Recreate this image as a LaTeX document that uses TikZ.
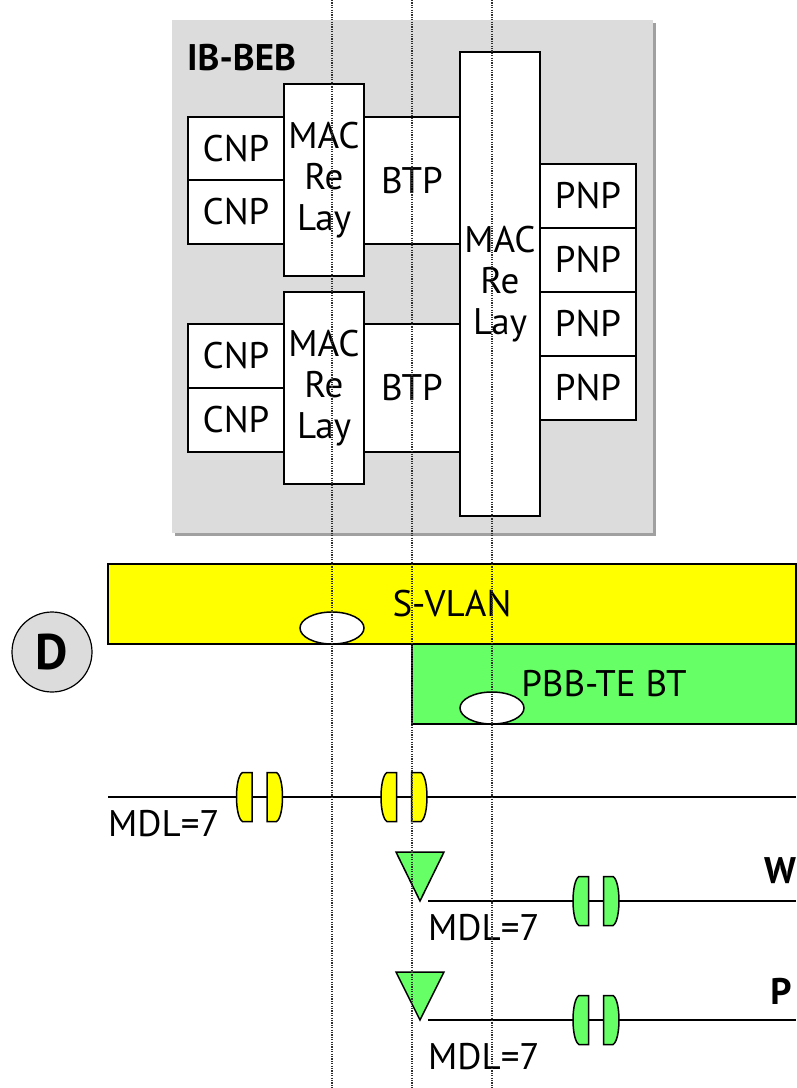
\documentclass[tikz,border=0pt]{standalone}
\usepackage{fontspec}
\setmainfont{PT Sans}
\usetikzlibrary{shapes.geometric}
\definecolor{panelgray}{HTML}{DCDCDC}
\definecolor{shadowgray}{HTML}{A0A0A0}
\definecolor{svyellow}{HTML}{FFFF00}
\definecolor{tegreen}{HTML}{66FF66}
\definecolor{dotgray}{HTML}{303030}
\tikzset{
  box/.style={draw=black, fill=white, line width=1.5pt, inner sep=0pt, outer sep=0pt,
    font=\fontsize{37}{41}\selectfont, align=center},
  band/.style={draw=black, line width=1.5pt, inner sep=0pt, outer sep=0pt,
    font=\fontsize{37}{41}\selectfont},
  lbl/.style={inner sep=0pt, font=\fontsize{37}{41}\selectfont},
  blbl/.style={inner sep=0pt, font=\fontsize{37}{41}\selectfont\bfseries},
  oval/.style={ellipse, draw=black, fill=white, line width=1.5pt, minimum width=64, minimum height=32, inner sep=0pt},
  guide/.style={draw=dotgray, line width=1.4pt, dash pattern=on 1.2pt off 1.2pt},
  flow/.style={draw=black, line width=1.5pt},
  tri/.style={draw=black, fill=tegreen, line width=1.5pt, line join=miter},
  pics/mip/.style={code={
    \filldraw[fill=#1, draw=black, line width=1.5pt]
      (-7.5,-24.5) -- (-17,-24.5) .. controls (-25,-20) and (-25,20) .. (-17,24.5) -- (-7.5,24.5) -- cycle;
    \filldraw[fill=#1, draw=black, line width=1.5pt]
      (7.5,-24.5) -- (17,-24.5) .. controls (25,-20) and (25,20) .. (17,24.5) -- (7.5,24.5) -- cycle;
  }}
}
\begin{document}
\begin{tikzpicture}[x=1pt, y=-1pt]
\useasboundingbox (0,0) rectangle (796,1088);
% panel
\fill[shadowgray] (175,23) rectangle (656,536);
\fill[panelgray] (172,20) rectangle (653,533);
\node[blbl, anchor=base west] (title) at (187,70) {IB-BEB};
% upper group
\node[box, minimum width=96, minimum height=63] (cnp1) at (236,148.5) {CNP};
\node[box, minimum width=96, minimum height=64] (cnp2) at (236,212) {CNP};
\node[box, minimum width=96, minimum height=127] (btp1) at (412,180.5) {BTP};
\node[box, minimum width=80, minimum height=192] (relay1) at (324,180) {MAC\\Re\\Lay};
% lower group
\node[box, minimum width=96, minimum height=64] (cnp3) at (236,356) {CNP};
\node[box, minimum width=96, minimum height=64] (cnp4) at (236,420) {CNP};
\node[box, minimum width=96, minimum height=128] (btp2) at (412,388) {BTP};
\node[box, minimum width=80, minimum height=192] (relay2) at (324,388) {MAC\\Re\\Lay};
% big relay and PNPs
\node[box, minimum width=80, minimum height=464] (relay3) at (500,284) {MAC\\Re\\Lay};
\node[box, minimum width=96, minimum height=64] (pnp1) at (588,196) {PNP};
\node[box, minimum width=96, minimum height=64] (pnp2) at (588,260) {PNP};
\node[box, minimum width=96, minimum height=64] (pnp3) at (588,324) {PNP};
\node[box, minimum width=96, minimum height=64] (pnp4) at (588,388) {PNP};
% domain bands
\node[circle, draw=black, fill=panelgray, line width=1.2pt, minimum size=80, inner sep=0pt,
  font=\fontsize{50}{54}\selectfont\bfseries] (dom) at (52,652) {D};
\node[band, fill=svyellow, minimum width=688, minimum height=80] (svlan) at (452,604) {S-VLAN};
\node[band, fill=tegreen, minimum width=384, minimum height=80] (pbb) at (604,684) {PBB-TE BT};
\node[oval] (ov1) at (332,628) {};
\node[oval] (ov2) at (492,708) {};
% MDL line 1
\coordinate (l1a) at (108,797);
\coordinate (l1b) at (796,797);
\draw[flow] (l1a) -- (l1b);
\pic at (259.5,797) {mip=svyellow};
\pic at (404,797) {mip=svyellow};
\node[lbl, anchor=base west] (mdl1) at (108,836) {MDL=7};
% MDL line 2 (W)
\coordinate (l2a) at (428,901);
\coordinate (l2b) at (796,901);
\draw[flow] (l2a) -- (l2b);
\draw[tri] (396,852) -- (444,852) -- (420,901) -- cycle;
\pic at (596,901) {mip=tegreen};
\node[lbl, anchor=base west] (mdl2) at (428,940) {MDL=7};
\node[blbl] (w) at (780,871) {W};
% MDL line 3 (P)
\coordinate (l3a) at (428,1020);
\coordinate (l3b) at (796,1020);
\draw[flow] (l3a) -- (l3b);
\draw[tri] (396,972) -- (444,972) -- (420,1020) -- cycle;
\pic at (596,1020) {mip=tegreen};
\node[lbl, anchor=base west] (mdl3) at (428,1069) {MDL=7};
\node[blbl] (p) at (781,991) {P};
% dotted guides
\coordinate (g1t) at (332,0); \coordinate (g1b) at (332,1088);
\coordinate (g2t) at (412,0); \coordinate (g2b) at (412,1088);
\coordinate (g3t) at (492,0); \coordinate (g3b) at (492,1088);
\draw[guide] (g1t) -- (g1b);
\draw[guide] (g2t) -- (g2b);
\draw[guide] (g3t) -- (g3b);
\end{tikzpicture}
\end{document}
